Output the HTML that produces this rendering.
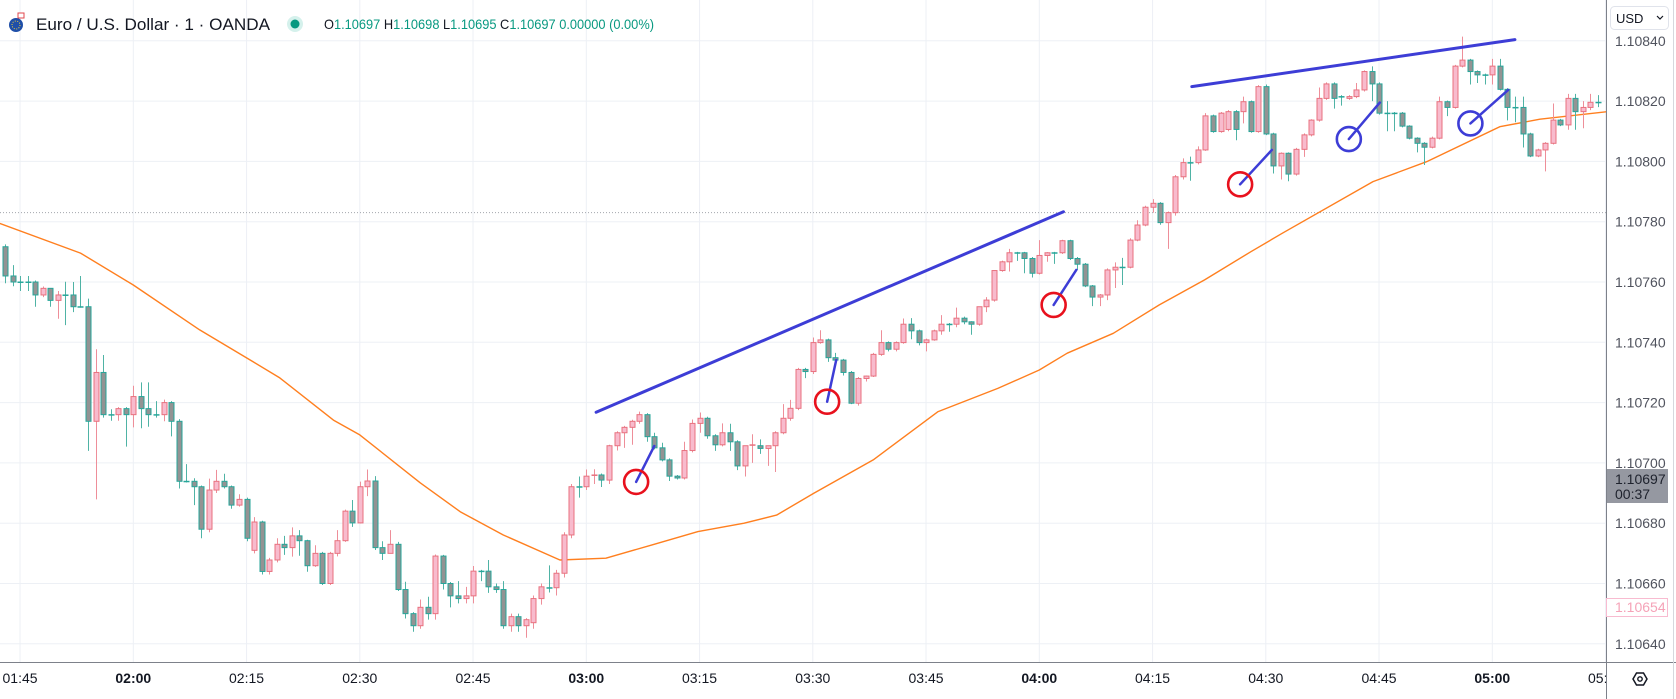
<!DOCTYPE html>
<html><head><meta charset="utf-8"><style>
html,body{margin:0;padding:0;background:#fff;}
svg{display:block;font-family:"Liberation Sans",sans-serif;}
</style></head><body>
<svg id="chart" width="1676" height="699" viewBox="0 0 1676 699" xmlns="http://www.w3.org/2000/svg">
<rect x="0" y="0" width="1676" height="699" fill="#ffffff"/>
<defs><clipPath id="plotclip"><rect x="0" y="0" width="1606" height="662"/></clipPath>
<clipPath id="timeclip"><rect x="0" y="663" width="1606" height="36"/></clipPath></defs>
<g id="grid"></g>
<g id="plot" clip-path="url(#plotclip)"></g>
<g id="axes"></g>
</svg>
<script>
// ---- data (prices in 1e-5 units above 1.10000; minutes relative to 02:00) ----
const firstMinute = -17;
const opens = [771.7,762,760,760,760,755.7,757.9,753.9,755.7,755.7,751.8,751.8,713.8,730,716,716,718,
716,722,718,716,716,720,713.8,693.9,693.9,692.1,
678,691,693.9,692.1,686,687.9,671,680.4,664,667.8,
673,671.9,675.8,674.2,665.9,670,660,670,674.2,684,
680.1,692.1,694,671.9,670,673,658,650,646,652.1,
650,669.1,660,655.9,655,655.9,664.1,664.1,658.9,658,
646,649,646,647,655,658.6,658.6,663.4,676.1,692.1,
692.1,695.6,696,694.3,705.7,710,711.8,713.8,716,708.7,
705,701,695.6,695,704.1,713.1,714.8,709,706,710,
707,699,705.7,705.7,704.8,705.7,710,714.8,718.1,731,
730.3,739.9,740.8,734.9,734.1,730,719.8,728,728.8,736,
739.9,737.7,739.9,746,743.8,739.9,740.8,743.8,746,746,
748,746.8,746,751.8,754,763.8,766.7,769.7,769.7,767.8,
762.9,768.8,769.7,769.7,773.7,767.8,765.9,758.7,755,755.7,
764,764.9,764.9,773.9,778.9,784.8,786.1,779.7,783,794.9,
799.6,799.6,803.8,815.1,809.9,810.6,816.5,816.5,819.8,809.9,
824.8,809.1,798.5,802.7,795.8,804,808.8,813.7,820.9,825.7,
821.5,820.9,821.5,823.7,829.8,825.7,816,816,816,811.7,
807.7,806,804.7,807.7,819.8,817.9,831.6,833.6,829.8,828.7,
828.7,831.6,823.9,817.9,817.9,809.1,801.8,803.8,806,813.7,
812.1,820.9,816.5,817.9,819.6];
const closes = [762,760,760,760,755.7,757.9,753.9,755.7,755.7,751.8,751.8,713.8,730,716,716,718,716,
722,718,716,716,720,713.8,693.9,693.9,692.1,678,
691,693.9,692.1,686,687.9,675,680.4,664,667.8,673,
671.9,675.8,674.2,665.9,670,660,670,674.2,684,680.1,
692.1,694,671.9,670,673,658,650,646,652.1,650,
669.1,660,655.9,655,655.9,664.1,664.1,658.9,658,646,
649,646,648,655,658.9,658.6,663.4,676.1,692.1,692.1,
695.6,696,694.3,705.7,710,711.8,713.8,716,708.7,705,
701,695.6,695,704.1,713.1,714.8,709,706,710,707,
699,705.7,706,704.8,705.7,710,714.8,718.1,731,730.3,
739.9,740.8,734.9,734.1,730,719.8,728,728.8,736,739.9,
737.7,739.9,746,743.8,739.9,740.8,743.8,746,746,748,
746.8,746,751.8,754,763.8,766.7,769.7,769.7,767.8,762.9,
768.8,769.7,769.7,773.7,767.8,765.9,758.7,755,755.7,764,
764.9,764.9,773.9,778.9,784.8,786.1,779.7,783,794.9,799.6,
799.6,803.8,815.1,809.9,816,816.5,810.6,819.8,809.9,824.8,
809.1,798.5,802.7,795.8,804,808.8,813.7,820.9,825.7,820.9,
821.5,821.5,823.7,829.8,825.7,816,816,816,811.7,807.7,
806,804.7,807.7,819.8,817.9,831.6,833.6,829.8,828.7,828.7,
831.6,823.9,817.9,817.9,809.1,801.8,803.8,806,813.7,812.1,
820.9,816.5,817.9,819.6,819.6];
const highs = [772.5,765.6,762,762,760.5,758.5,758,757,760.1,760,762,754.5,737.7,735.8,717.8,718.5,718.5,
725.6,726.7,726.7,720.5,721,720.5,714.5,699.6,694.9,692.5,
694.8,697.7,696.4,692.5,689.6,688.5,682,680.8,668.5,675,
675.8,678.6,677.7,674.5,672.7,670.5,670.5,677.7,684.5,687.7,
693.8,697.8,695.6,674,677.7,673.8,660.6,650.5,654.7,655.6,
669.6,669.5,660.5,660.8,658.9,665.8,664.5,667.8,660,660.8,
650,650,648.5,656,660,666,664.5,677,693,695.5,
697.8,697.9,696.5,706,710.5,712.3,714.3,717,716.5,710,
706.7,701.5,696,707,714.4,716.7,715.3,709.5,713.1,713,
707.5,705.7,709.5,707.8,705.7,710.5,719.5,720.9,731.5,731.5,
741.6,744,741.2,736.5,734.5,730.5,728.5,729,736.5,744,
740.3,740.3,747.9,748,744.2,741.2,744.2,749,746.4,751.5,
748.5,747,751.8,755,763.8,767.1,771,770,770,768.3,
773.9,769.9,770,774,774,768.3,766.3,759,756,764.5,
766.5,768,774.5,780.5,785.3,787.5,786.5,783.4,795.5,801,
801.6,805,816,815.5,816.4,817,817,821.5,820.2,825.3,
825.5,809.5,803,803,804.5,809.3,814,824.5,826.2,826.2,
822,822,826,830.2,831.5,826.2,820,816.4,816.4,812,
808,806.4,808.2,821.5,820.2,832,841.4,834,830.2,829.1,
834,834,824.3,821.5,821.5,809.5,804.2,806.4,819.2,814.1,
822.4,822.4,820,822.4,822];
const lows = [759.6,758.6,757,757,751.8,755,751.8,747.8,745.7,750,751.5,704,687.9,715,714,714,705.4,
711.8,711.5,712,715,713.8,708.8,691.5,693.5,686,675,
677,690,691.5,684.8,685.5,674,670,663,663,667,
669.5,668.9,669.2,663.9,665.5,659.5,659.5,669,673.8,678.8,
679.9,689,671.1,667.8,670,657.5,648.4,644,645,648,
648,658,652.1,653.4,653.4,653.4,660.8,656.9,656.9,645,
644,644,642,645,653,657,656,662,675,688.5,
691,693,692,693,704.1,705,706,713,707,704.5,
700.5,694,694.5,694.5,703.5,710,708,704,705.5,704,
697.6,695.5,700,703,699,697,709.5,714,717.5,728.1,
729.5,739.5,733.5,733,729,719.5,719,727,728.5,735.5,
737,737,739.5,741,739,737,740.5,742.5,743.5,745,
746,742.5,745.5,750,753.5,763.4,763.5,767,762.9,761.5,
762.5,766.7,766,769.3,767.3,764,758.3,752,752,754,
758,759,764.5,773.5,778.5,783,779,771,782,794,
793.6,799,803.5,809.5,809.5,810,807,812.6,809.5,809.5,
808.7,796,794,793.4,795.3,801.5,808.3,813.2,820.4,817.5,
818.5,820.4,821,823.2,820,815.5,810,810,811.3,807.3,
803,798.8,804.3,807.3,815,817.5,831.2,825.5,826,825.5,
825.5,823.5,813.6,813,804.6,801.4,801.4,796.7,805.6,811.7,
810.5,810.5,811,817,818];
// EMA line samples (minute, price)
const emaMinutes = [-18,-7,0,8.8,15.9,19.4,26.5,30,38,43.3,49,56.5,62.6,68.7,74.8,80.9,85.2,90.1,98,106.6,114.5,120,123.7,129.8,135.9,141.9,148,152.2,164.2,171.3,181,186.3,196];
const emaValues  = [779.7,769.6,759,744.1,733.5,728.2,714.2,709.3,693.4,683.8,676.1,667.8,668.4,672.8,677.2,680,682.7,689.9,701,717,724.7,730.8,736.4,743,752.4,760.7,770,776.2,793.3,799.9,811.5,814,816.7];
// axis ticks
const priceTicks = [640,660,680,700,720,740,760,780,800,820,840];
const timeTickMinutes = [-15,0,15,30,45,60,75,90,105,120,135,150,165,180,195];
const timeTickLabels = ["01:45","02:00","02:15","02:30","02:45","03:00","03:15","03:30","03:45","04:00","04:15","04:30","04:45","05:00","05:15"];
const prevCloseLine = 783;

// ---- scales ----
const X0 = 133.3, PXMIN = 7.55, Y0 = 282, P0 = 760, PXP = 3.015;
function xOf(m){ return X0 + m*PXMIN; }
function yOf(p){ return Y0 - (p-P0)*PXP; }
const NS = "http://www.w3.org/2000/svg";
function mk(tag, attrs, parent){ const e=document.createElementNS(NS,tag); for(const k in attrs) e.setAttribute(k,attrs[k]); parent.appendChild(e); return e; }
const grid=document.getElementById('grid'), plot=document.getElementById('plot'), axes=document.getElementById('axes');

priceTicks.forEach(p=>{
  const l=mk('line',{x1:0,x2:1606,y1:yOf(p),y2:yOf(p),stroke:'#edf0f5','stroke-width':1},grid);
  
  
});
timeTickMinutes.forEach(m=>{
  const l=mk('line',{x1:xOf(m),x2:xOf(m),y1:0,y2:662,stroke:'#edf0f5','stroke-width':1},grid);
  
  
});
{
  const l=mk('line',{x1:0,x2:1606,y1:yOf(prevCloseLine),y2:yOf(prevCloseLine),stroke:'#a3a6ad','stroke-width':1,'stroke-dasharray':'1 2'},grid);
  
  
}

{
  let d=''; emaMinutes.forEach((m,i)=>{ d+=(i?'L':'M')+xOf(m).toFixed(1)+' '+yOf(emaValues[i]).toFixed(1)+' '; });
  const e=mk('path',{d:d,fill:'none',stroke:'#ff7f1f','stroke-width':1.4,'stroke-linejoin':'round'},plot);
  
  
}

opens.forEach((o,i)=>{
  const m=firstMinute+i, c=closes[i];
  const h=Math.max(highs[i],o,c), l=Math.min(lows[i],o,c);
  const up=c>o;
  const cx=Math.round(xOf(m))+0.5;
  const g=mk('g',{},plot);
  
  
  mk('line',{x1:cx,x2:cx,y1:yOf(h),y2:yOf(l),stroke:up?'#ee8e99':'#4fb3a5','stroke-width':1},g);
  const top=yOf(Math.max(o,c)), bot=yOf(Math.min(o,c));
  const hgt=Math.max(bot-top,1);
  if(hgt<=1.5){
    mk('rect',{x:cx-3,y:top-0.5,width:6,height:1.5,fill:up?'#e8727f':'#26a69a'},g);
  } else {
    mk('rect',{x:cx-2.5,y:top,width:5,height:hgt,fill:up?'#f8bbcd':'#939393',stroke:up?'#e8727f':'#26a69a','stroke-width':1},g);
  }
});

const trendStartM=[61.3,140.2], trendStartP=[716.8,824.8], trendEndM=[123.2,183], trendEndP=[783.3,840.4];
trendStartM.forEach((m,i)=>{
  const l=mk('line',{x1:xOf(m),y1:yOf(trendStartP[i]),x2:xOf(trendEndM[i]),y2:yOf(trendEndP[i]),stroke:'#3d3dd6','stroke-width':3,'stroke-linecap':'round'},plot);
  
  
});
const markM=[66.6,91.9,121.9,146.6,161,177.1], markP=[693.7,720.3,752.4,792.4,807.4,812.6];
const markEndM=[69.0,93.1,124.9,150.8,165.1,182.1], markEndP=[705.6,734.1,764,803.8,819.5,823.7];
const markColor=['red','red','red','red','blue','blue'];
markM.forEach((m,i)=>{
  const l=mk('line',{x1:xOf(m),y1:yOf(markP[i]),x2:xOf(markEndM[i]),y2:yOf(markEndP[i]),stroke:'#3d3dd6','stroke-width':2.5,'stroke-linecap':'round'},plot);
  
  
  const c=mk('circle',{cx:xOf(m),cy:yOf(markP[i]),r:12,fill:'none',stroke:markColor[i]==='red'?'#e8111d':'#3d3dd6','stroke-width':2.6},plot);
  
  
});

mk('line',{x1:1606.5,x2:1606.5,y1:0,y2:699,stroke:'#7d818a','stroke-width':1},axes);
mk('line',{x1:0,x2:1676,y1:662.5,y2:662.5,stroke:'#7d818a','stroke-width':1},axes);
mk('line',{x1:1673.5,x2:1673.5,y1:0,y2:699,stroke:'#d6d8dd','stroke-width':1},axes);

priceTicks.forEach(p=>{
  const t=mk('text',{x:1615,y:yOf(p)+5,'font-size':14,fill:'#50535e'},axes);
  t.textContent=(1.1+p/100000).toFixed(5);
  
  
});
const tg=mk('g',{'clip-path':'url(#timeclip)'},axes);
timeTickMinutes.forEach((m,i)=>{
  const lab=timeTickLabels[i];
  const bold=lab.endsWith(':00');
  const t=mk('text',{x:xOf(m),y:683,'font-size':14,'text-anchor':'middle',fill:'#131722','font-weight':bold?'bold':'normal'},tg);
  t.textContent=lab;
  
  
});
</script>
<svg style="position:absolute;left:0;top:0" width="1676" height="699">
  <g>
    <circle cx="16" cy="25" r="7" fill="#1f4fa8"/>
    <circle cx="16" cy="25" r="4" fill="none" stroke="#f5d33b" stroke-width="1" stroke-dasharray="1 1.5"/>
    <rect x="18" y="13" width="6" height="5" fill="#fff" stroke="#e0474c" stroke-width="1"/>
  </g>
  <text x="36" y="30" font-size="17" fill="#131722" textLength="234" lengthAdjust="spacingAndGlyphs">Euro / U.S. Dollar · 1 · OANDA</text>
  <circle cx="295" cy="24" r="8" fill="#d5f1ec"/>
  <circle cx="295" cy="24" r="4.5" fill="#089981"/>
  <text x="324" y="29" font-size="14" fill="#131722" textLength="330" lengthAdjust="spacingAndGlyphs">O<tspan fill="#089981">1.10697</tspan> H<tspan fill="#089981">1.10698</tspan> L<tspan fill="#089981">1.10695</tspan> C<tspan fill="#089981">1.10697</tspan> <tspan fill="#089981">0.00000 (0.00%)</tspan></text>
  <rect x="1610.5" y="6.5" width="58" height="23" rx="4" fill="#fff" stroke="#e0e3eb"/>
  <text x="1616" y="23" font-size="13" fill="#131722">USD</text>
  <path d="M1657 16 l3 3 l3 -3" fill="none" stroke="#131722" stroke-width="1.2"/>
  <rect x="1607" y="469" width="61" height="34" fill="#9598a1"/>
  <text x="1615" y="484" font-size="14" fill="#1e222d">1.10697</text>
  <text x="1615" y="499" font-size="14" fill="#1e222d">00:37</text>
  <rect x="1606.5" y="598.5" width="61" height="18" fill="#fff" stroke="#f8bbd0"/>
  <text x="1615" y="612" font-size="14" fill="#f5a3b8">1.10654</text>
  <g>
    <polygon points="1633,679 1636.5,673 1643.5,673 1647,679 1643.5,685 1636.5,685" fill="none" stroke="#131722" stroke-width="1.5"/>
    <circle cx="1640" cy="679" r="2.2" fill="none" stroke="#131722" stroke-width="1.4"/>
  </g>
</svg>
</body></html>
